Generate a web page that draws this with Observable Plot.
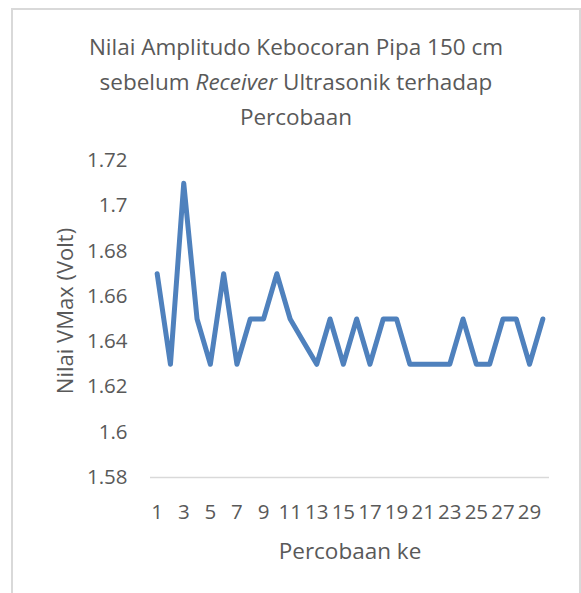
<!DOCTYPE html>
<html>
<head>
<meta charset="utf-8">
<script src="https://cdn.jsdelivr.net/npm/d3@7"></script>
<script src="https://cdn.jsdelivr.net/npm/@observablehq/plot@0.6"></script>
<style>
  html, body { margin: 0; padding: 0; background: #fff; }
  #wrap { position: relative; width: 581px; height: 593px; overflow: hidden; font-family: "Open Sans", Lato, sans-serif; color: #595959; }
  #frame { position: absolute; left: 11px; top: 8px; width: 570px; height: 600px; box-sizing: border-box; border: 2px solid #d9d9d9; }
  #title { position: absolute; left: 11px; width: 570px; top: 29px; text-align: center; font-size: 22.5px; line-height: 35px; color: #595959; white-space: nowrap; }
  #chart { position: absolute; left: 0; top: 140px; }
</style>
</head>
<body>
<div id="wrap">
  <div id="frame"></div>
  <div id="title">Nilai Amplitudo Kebocoran Pipa 150 cm<br>sebelum <i>Receiver</i> Ultrasonik terhadap<br>Percobaan</div>
  <div id="chart"></div>
</div>
<script>
const percobaan = [1,2,3,4,5,6,7,8,9,10,11,12,13,14,15,16,17,18,19,20,21,22,23,24,25,26,27,28,29,30];
const vmax = [1.67,1.63,1.71,1.65,1.63,1.67,1.63,1.65,1.65,1.67,1.65,1.64,1.63,1.65,1.63,1.65,1.63,1.65,1.65,1.63,1.63,1.63,1.63,1.65,1.63,1.63,1.65,1.65,1.63,1.65];
const yTicks = [1.58,1.6,1.62,1.64,1.66,1.68,1.7,1.72];
const xTicks = [1,3,5,7,9,11,13,15,17,19,21,23,25,27,29];
const xLabel = "Percobaan ke";
const yLabel = "Nilai VMax (Volt)";

const data = percobaan.map((p, i) => ({p, v: vmax[i]}));

const chart = Plot.plot({
  width: 581,
  height: 453,
  marginTop: 20,
  marginBottom: 116,
  marginLeft: 150,
  marginRight: 32,
  style: {fontFamily: "'Open Sans', Lato, sans-serif", color: "#595959", background: "transparent", overflow: "visible"},
  x: {domain: [0.5, 30.5], axis: null},
  y: {domain: [1.58, 1.72], axis: null},
  marks: [
    Plot.axisX(xTicks, {tickSize: 0, tickPadding: 27, fontSize: 20.5, fill: "#595959", label: null}),
    Plot.axisY(yTicks, {tickSize: 0, tickPadding: 23, fontSize: 20.5, fill: "#595959", label: null, tickFormat: d => String(+d.toFixed(2))}),
    Plot.ruleY([1.58], {x1: 0.5, x2: 30.5, stroke: "#d9d9d9", strokeWidth: 1.5}),
    Plot.line(data, {x: "p", y: "v", stroke: "#4f81bd", strokeWidth: 5, strokeLinejoin: "round", strokeLinecap: "round"}),
    Plot.text([xLabel], {frameAnchor: "bottom", dy: 74, fontSize: 22.5, fill: "#595959", lineAnchor: "middle", textAnchor: "middle"}),
    Plot.text([yLabel], {frameAnchor: "left", dx: -85, dy: -8, rotate: -90, fontSize: 22, fill: "#595959", lineAnchor: "middle", textAnchor: "middle"})
  ]
});
document.getElementById("chart").appendChild(chart);
</script>
</body>
</html>
